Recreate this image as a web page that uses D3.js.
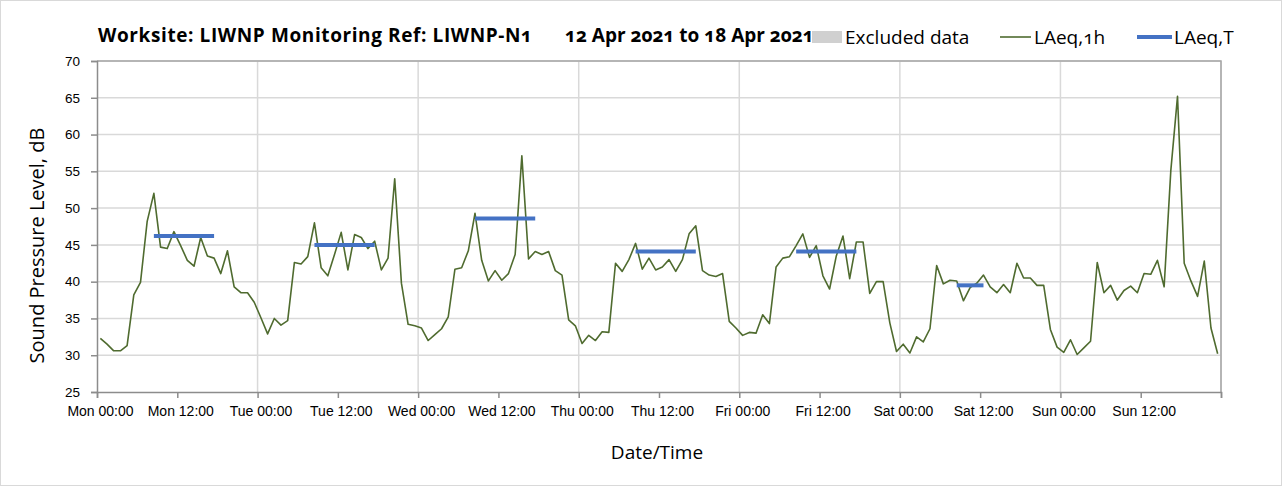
<!DOCTYPE html>
<html>
<head>
<meta charset="utf-8">
<script src="https://cdn.jsdelivr.net/npm/d3@7"></script>
<style>
  body { margin: 0; background: #fff; }
  svg { font-family: "Open Sans", Lato, sans-serif; font-variant-numeric: oldstyle-nums; }
  .grid line { stroke: #d9d9d9; stroke-width: 1.5; }
  .axis path, .axis line { stroke: #8c8c8c; stroke-width: 1.5; }
  .axis text { fill: #000; }
</style>
</head>
<body>
<div id="chart"></div>
<script>
// hourly LAeq,1h values, Mon 00:30 .. Sun 23:30
var laeq1h = [
  32.3, 31.5, 30.6, 30.6, 31.3, 38.2, 39.9, 48.2, 52.0, 44.7, 44.5, 46.8, 44.9, 42.9, 42.1, 46.0, 43.5, 43.2, 41.1, 44.2, 39.3, 38.5, 38.5, 37.2,
  35.1, 32.9, 35.0, 34.1, 34.7, 42.6, 42.4, 43.4, 48.0, 41.9, 40.8, 43.7, 46.7, 41.6, 46.4, 46.0, 44.5, 45.5, 41.6, 43.2, 54.0, 39.8, 34.2, 34.0,
  33.7, 32.0, 32.8, 33.6, 35.2, 41.7, 41.9, 44.2, 49.3, 42.9, 40.1, 41.5, 40.2, 41.1, 43.7, 57.1, 43.1, 44.1, 43.7, 44.1, 41.5, 40.9, 34.8, 34.0,
  31.6, 32.7, 32.0, 33.2, 33.1, 42.5, 41.4, 43.0, 45.2, 41.7, 43.2, 41.6, 42.0, 43.0, 41.4, 43.0, 46.5, 47.6, 41.5, 40.9, 40.7, 41.1, 34.6, 33.7,
  32.7, 33.1, 33.0, 35.5, 34.3, 42.0, 43.2, 43.4, 44.9, 46.5, 43.3, 44.9, 40.8, 39.0, 43.5, 46.2, 40.4, 45.4, 45.4, 38.4, 40.0, 40.0, 34.4, 30.5,
  31.5, 30.3, 32.5, 31.8, 33.6, 42.2, 39.7, 40.2, 40.1, 37.4, 39.2, 39.8, 40.9, 39.3, 38.5, 39.6, 38.5, 42.5, 40.5, 40.5, 39.5, 39.5, 33.5, 31.1,
  30.4, 32.1, 30.1, 31.0, 31.9, 42.6, 38.5, 39.5, 37.5, 38.8, 39.4, 38.5, 41.1, 41.0, 42.9, 39.3, 55.1, 65.2, 42.5, 40.1, 38.0, 42.8, 33.7, 30.2
];

// LAeq,T daytime periods (hour index of first / last hourly point)
var laeqTStart = [8, 32, 56, 80, 104, 128];
var laeqTEnd = [17, 41, 65, 89, 113, 132];
var laeqTValue = [46.2, 45.0, 48.6, 44.1, 44.1, 39.5];

var xTickHours = [0, 12, 24, 36, 48, 60, 72, 84, 96, 108, 120, 132, 144, 156];
var xTickLabels = ["Mon 00:00", "Mon 12:00", "Tue 00:00", "Tue 12:00", "Wed 00:00", "Wed 12:00",
  "Thu 00:00", "Thu 12:00", "Fri 00:00", "Fri 12:00", "Sat 00:00", "Sat 12:00", "Sun 00:00", "Sun 12:00"];
var dayHours = [24, 48, 72, 96, 120, 144, 168];
var yTicks = [25, 30, 35, 40, 45, 50, 55, 60, 65, 70];

var title = "Worksite: LIWNP Monitoring Ref: LIWNP-N1";
var period = "12 Apr 2021 to 18 Apr 2021";

// Set the dimensions of the canvas / graph
var W = 1282, H = 486;
var margin = {top: 61, right: 61, bottom: 94, left: 97};
var width = W - margin.left - margin.right;
var height = H - margin.top - margin.bottom;

var x = d3.scaleLinear().domain([0, 168]).range([0, width]);
var y = d3.scaleLinear().domain([25, 70]).range([height, 0]);

var root = d3.select("#chart").append("svg")
  .attr("width", W)
  .attr("height", H);

// outer chart border
root.append("rect")
  .attr("x", 0.5).attr("y", 0.5)
  .attr("width", W - 1).attr("height", H - 1)
  .attr("fill", "#fff")
  .attr("stroke", "#d9d9d9");

var svg = root.append("g")
  .attr("transform", "translate(" + margin.left + "," + margin.top + ")");

// horizontal gridlines
svg.append("g").attr("class", "grid")
  .selectAll("line")
  .data(yTicks.slice(1))
  .enter().append("line")
    .attr("x1", 0).attr("x2", width)
    .attr("y1", function(d) { return y(d); })
    .attr("y2", function(d) { return y(d); });

// vertical gridlines at each midnight
svg.append("g").attr("class", "grid")
  .selectAll("line")
  .data(dayHours)
  .enter().append("line")
    .attr("x1", function(d) { return x(d); })
    .attr("x2", function(d) { return x(d); })
    .attr("y1", 0).attr("y2", height);

// plot frame (top / right)
svg.append("path")
  .attr("d", "M0,0H" + width + "V" + height)
  .attr("fill", "none")
  .attr("stroke", "#a6a6a6")
  .attr("stroke-width", 1.5);

// Y axis
var yAxis = d3.axisLeft(y).tickValues(yTicks).tickSize(6).tickPadding(11);
var gy = svg.append("g").attr("class", "axis").call(yAxis);
gy.selectAll("text").style("font-size", "13.5px");

// X axis
var xAxis = d3.axisBottom(x)
  .tickValues(xTickHours.concat([168]))
  .tickSize(6)
  .tickPadding(8)
  .tickFormat(function(d, i) { return xTickLabels[i] || ""; });
var gx = svg.append("g").attr("class", "axis")
  .attr("transform", "translate(0," + height + ")")
  .call(xAxis);
gx.selectAll("text").style("font-size", "14px").attr("dx", "3px");

// LAeq,1h line
var valueline = d3.line()
  .x(function(d, i) { return x(i + 0.5); })
  .y(function(d) { return y(d); });

svg.append("path")
  .attr("d", valueline(laeq1h))
  .attr("fill", "none")
  .attr("stroke", "#4f6b2f")
  .attr("stroke-width", 1.6)
  .attr("stroke-linejoin", "round");

// LAeq,T segments
svg.append("g").selectAll("line")
  .data(laeqTValue)
  .enter().append("line")
    .attr("x1", function(d, i) { return x(laeqTStart[i] + 0.5); })
    .attr("x2", function(d, i) { return x(laeqTEnd[i] + 0.5); })
    .attr("y1", function(d) { return y(d); })
    .attr("y2", function(d) { return y(d); })
    .attr("stroke", "#4472c4")
    .attr("stroke-width", 4);

// axis titles
root.append("text")
  .attr("transform", "translate(44," + (margin.top + height / 2 + 19) + ") rotate(-90)")
  .attr("text-anchor", "middle")
  .style("font-size", "20px")
  .text("Sound Pressure Level, dB");

root.append("text")
  .attr("x", 657).attr("y", 459)
  .attr("text-anchor", "middle")
  .style("font-size", "19px")
  .text("Date/Time");

// chart title
root.append("text")
  .attr("x", 98).attr("y", 42)
  .style("font-size", "19px").style("font-weight", "bold")
  .style("letter-spacing", "0.6px")
  .text(title);
root.append("text")
  .attr("x", 565).attr("y", 42)
  .style("font-size", "19px").style("font-weight", "bold")
  .text(period);

// legend
var legend = root.append("g");
legend.append("rect")
  .attr("x", 812).attr("y", 31).attr("width", 30).attr("height", 12)
  .attr("fill", "#d0d0d0");
legend.append("text").attr("x", 845).attr("y", 44)
  .style("font-size", "19px").text("Excluded data");
legend.append("line")
  .attr("x1", 1000).attr("x2", 1031).attr("y1", 37).attr("y2", 37)
  .attr("stroke", "#4f6b2f").attr("stroke-width", 1.6);
legend.append("text").attr("x", 1034).attr("y", 44)
  .style("font-size", "19px").text("LAeq,1h");
legend.append("line")
  .attr("x1", 1137).attr("x2", 1172).attr("y1", 37).attr("y2", 37)
  .attr("stroke", "#4472c4").attr("stroke-width", 4);
legend.append("text").attr("x", 1174).attr("y", 44)
  .style("font-size", "19px").text("LAeq,T");
</script>
</body>
</html>
